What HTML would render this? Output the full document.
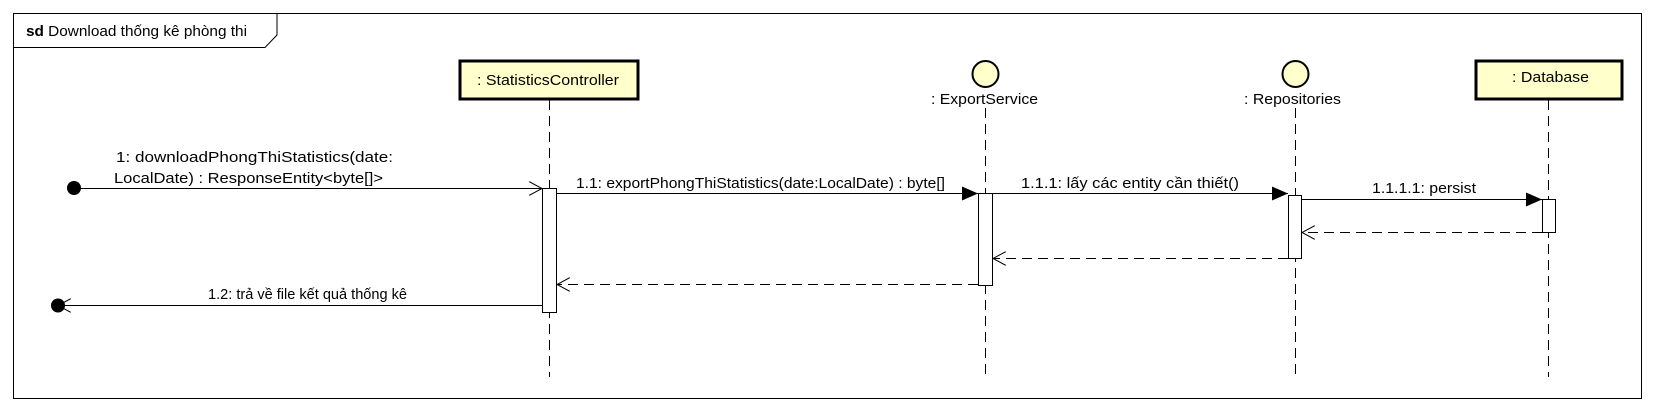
<!DOCTYPE html>
<html><head><meta charset="utf-8"><style>
html,body{margin:0;padding:0;background:#fff;}
svg{display:block;}
text{font-family:"Liberation Sans",Arial,sans-serif;font-size:15px;fill:#000;}
</style></head><body>
<svg width="1656" height="412" viewBox="0 0 1656 412" xmlns="http://www.w3.org/2000/svg">
<defs>
<marker id="f" markerWidth="16" markerHeight="14" refX="16" refY="7" orient="auto" markerUnits="userSpaceOnUse"><path d="M0,0 L16,7 L0,14 Z" fill="#000"/></marker>
<marker id="o" markerWidth="14" markerHeight="14" refX="13" refY="7" orient="auto" markerUnits="userSpaceOnUse"><path d="M0,0 L13,7 L0,14" fill="none" stroke="#000" stroke-width="1"/></marker>
</defs>
<rect x="13.5" y="13.5" width="1628" height="385" fill="#fff" stroke="#000"/>
<path d="M13.5,47.5 H265 L277,35 V13.5" fill="none" stroke="#000"/>
<text x="26" y="36" textLength="221" lengthAdjust="spacingAndGlyphs"><tspan font-weight="bold">sd</tspan> Download thống kê phòng thi</text>

<!-- lifelines -->
<g stroke="#000" stroke-dasharray="10,6" fill="none">
<line x1="549.5" y1="100" x2="549.5" y2="377"/>
<line x1="985.5" y1="108" x2="985.5" y2="377"/>
<line x1="1295.5" y1="108" x2="1295.5" y2="377"/>
<line x1="1548.5" y1="100" x2="1548.5" y2="377"/>
</g>
<rect x="460" y="61" width="178" height="38" fill="#ffffcc" stroke="#000" stroke-width="3"/>
<text x="477" y="85" textLength="142" lengthAdjust="spacingAndGlyphs">: StatisticsController</text>
<rect x="1476" y="61" width="146" height="38" fill="#ffffcc" stroke="#000" stroke-width="3"/>
<text x="1512" y="82" textLength="77" lengthAdjust="spacingAndGlyphs">: Database</text>
<circle cx="985.5" cy="74" r="13" fill="#ffffcc" stroke="#000" stroke-width="2"/>
<text x="931" y="104" textLength="107" lengthAdjust="spacingAndGlyphs">: ExportService</text>
<circle cx="1295.5" cy="74" r="13" fill="#ffffcc" stroke="#000" stroke-width="2"/>
<text x="1244" y="104" textLength="97" lengthAdjust="spacingAndGlyphs">: Repositories</text>

<!-- messages -->
<circle cx="74" cy="188" r="7" fill="#000"/>
<line x1="74" y1="188.5" x2="542" y2="188.5" stroke="#000" marker-end="url(#o)"/>
<text x="116" y="162" textLength="277" lengthAdjust="spacingAndGlyphs">1: downloadPhongThiStatistics(date:</text>
<text x="114" y="183" textLength="269" lengthAdjust="spacingAndGlyphs">LocalDate) : ResponseEntity&lt;byte[]&gt;</text>

<line x1="557" y1="193.5" x2="978" y2="193.5" stroke="#000" marker-end="url(#f)"/>
<text x="576" y="188" textLength="369" lengthAdjust="spacingAndGlyphs">1.1: exportPhongThiStatistics(date:LocalDate) : byte[]</text>

<line x1="993" y1="193.5" x2="1288" y2="193.5" stroke="#000" marker-end="url(#f)"/>
<text x="1021" y="188" textLength="218" lengthAdjust="spacingAndGlyphs">1.1.1: lấy các entity cần thiết()</text>

<line x1="1302" y1="199.5" x2="1542" y2="199.5" stroke="#000" marker-end="url(#f)"/>
<text x="1372" y="193" textLength="104" lengthAdjust="spacingAndGlyphs">1.1.1.1: persist</text>

<g stroke="#000" stroke-dasharray="10,6">
<line x1="1542" y1="232.5" x2="1302" y2="232.5" marker-end="url(#o)"/>
<line x1="1288" y1="258.5" x2="993" y2="258.5" marker-end="url(#o)"/>
<line x1="978" y1="284.5" x2="557" y2="284.5" marker-end="url(#o)"/>
</g>

<line x1="542" y1="305.5" x2="58" y2="305.5" stroke="#000" marker-end="url(#o)"/>
<circle cx="58" cy="305.5" r="7" fill="#000"/>
<text x="208" y="299" textLength="199" lengthAdjust="spacingAndGlyphs">1.2: trả về file kết quả thống kê</text>

<!-- activations -->
<rect x="542.5" y="188.5" width="14" height="124" fill="#fff" stroke="#000"/>
<rect x="978.5" y="193.5" width="14" height="92" fill="#fff" stroke="#000"/>
<rect x="1288.5" y="195.5" width="13" height="63" fill="#fff" stroke="#000"/>
<rect x="1542.5" y="199.5" width="13" height="33" fill="#fff" stroke="#000"/>
</svg>
</body></html>
